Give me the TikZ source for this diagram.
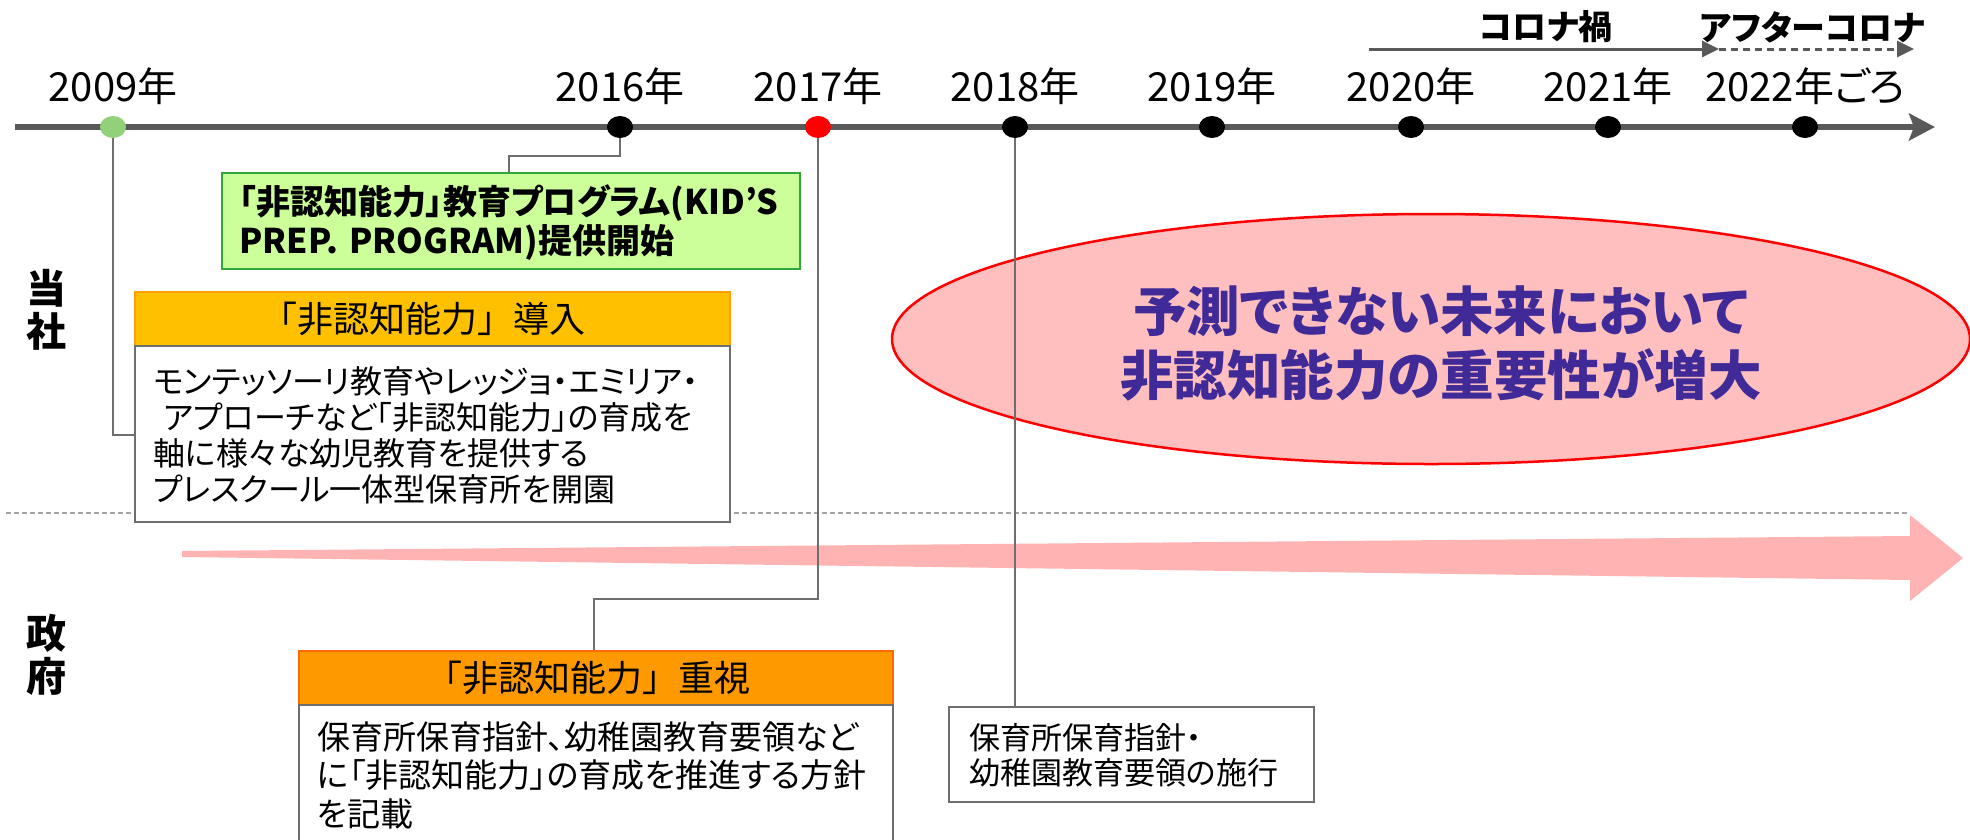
\documentclass[tikz,border=0pt]{standalone}
\usepackage{fontspec}
\setmainfont{Noto Sans CJK JP}[RawFeature=+palt]
\newfontfamily\plainjp{Noto Sans CJK JP}
\usetikzlibrary{arrows.meta,shapes.geometric}
\definecolor{axisgray}{HTML}{595959}
\definecolor{linkgray}{HTML}{6E6E6E}
\definecolor{sepgray}{HTML}{A6A6A6}
\definecolor{dotgreen}{HTML}{92D07A}
\definecolor{boxgreen}{HTML}{CCFF99}
\definecolor{boxgreenline}{HTML}{2EA83A}
\definecolor{gold}{HTML}{FFC000}
\definecolor{goldline}{HTML}{FFA000}
\definecolor{orangefill}{HTML}{FF9900}
\definecolor{orangeline}{HTML}{FF6A00}
\definecolor{pinkarrow}{HTML}{FFB3B3}
\definecolor{pinkfill}{HTML}{FFBFBF}
\definecolor{purpletext}{HTML}{3F2A98}
\tikzset{
  yeardot/.style={ellipse, minimum width=26pt, minimum height=22pt, inner sep=0pt, fill=black},
  yearlabel/.style={font=\fontsize{40}{43}\selectfont, inner sep=0pt},
  link/.style={draw=linkgray, line width=1.8pt},
  plainbox/.style={draw=linkgray, line width=1.5pt, fill=white, anchor=north west, inner sep=0pt},
  boxtext/.style={anchor=base west, inner sep=0pt, align=left},
  headtext/.style={font=\plainjp\fontsize{36}{38}\selectfont, inner sep=0pt},
  sidelabel/.style={font=\bfseries\fontsize{40}{43}\selectfont, align=center, inner sep=0pt},
  phaselabel/.style={font=\bfseries\fontsize{34}{36}\selectfont, inner sep=0pt},
}
\begin{document}
\begin{tikzpicture}[x=1pt,y=-1pt]
\useasboundingbox (0,0) rectangle (1970,839);

% separator
\draw[sepgray, line width=1.5pt, dash pattern=on 5pt off 3pt] (6,513) -- (1910,513);

% big pink arrow
\fill[pinkarrow] (182,551) -- (1910,536) -- (1910,515) -- (1963,558) -- (1910,601) -- (1910,580) -- (182,557) -- cycle;

% ellipse
\node[ellipse, draw=red, line width=2.5pt, fill=pinkfill, minimum width=1078pt, minimum height=250pt, inner sep=0pt] (ell) at (1431,339) {};
\node[font=\bfseries\fontsize{53.5}{64}\selectfont, text=purpletext, align=center, inner sep=0pt] (elltxt) at (1441,343) {予測できない未来において\\非認知能力の重要性が増大};

% timeline
\coordinate (tlstart) at (15,127);
\coordinate (tlend) at (1935,127);
\draw[axisgray, line width=5.5pt, -{Stealth[length=26pt, width=27pt, inset=5pt]}] (tlstart) -- (tlend);

% top phase arrows
\coordinate (c1) at (1369,49);
\coordinate (c2) at (1719,49);
\coordinate (c3) at (1914,49);
\draw[axisgray, line width=3pt, -{Triangle[length=17pt, width=16pt]}] (c1) -- (c2);
\draw[axisgray, line width=3pt, dash pattern=on 7pt off 5pt, -{Triangle[length=17pt, width=16pt]}] (c2) -- (c3);
\node[phaselabel] (corona) at (1546,27) {コロナ禍};
\node[phaselabel] (after) at (1812,27) {アフターコロナ};

% year labels
\node[yearlabel] (y2009) at (113,86) {2009年};
\node[yearlabel] (y2016) at (620,86) {2016年};
\node[yearlabel] (y2017) at (818,86) {2017年};
\node[yearlabel] (y2018) at (1015,86) {2018年};
\node[yearlabel] (y2019) at (1212,86) {2019年};
\node[yearlabel] (y2020) at (1411,86) {2020年};
\node[yearlabel] (y2021) at (1608,86) {2021年};
\node[yearlabel] (y2022) at (1805,86) {2022年ごろ};

% side labels
\node[sidelabel] (tousha) at (47,310) {当\\社};
\node[sidelabel] (seifu) at (47,655) {政\\府};

% green box
\node[draw=boxgreenline, line width=1.8pt, fill=boxgreen, minimum width=578pt, minimum height=96pt, anchor=north west, inner sep=0pt] (green) at (221,172) {};
\node[boxtext, text width=570pt, font=\bfseries\fontsize{34}{39}\selectfont] (greentxt) at (239,214) {「非認知能力」教育プログラム(KID’S\\PREP. PROGRAM)提供開始};

% box 1
\node[draw=goldline, line width=1.5pt, fill=gold, minimum width=595pt, minimum height=54pt, anchor=north west, inner sep=0pt] (h1) at (134,291) {};
\node[headtext, xshift=-9pt] (h1txt) at (h1.center) {「非認知能力」導入};
\node[plainbox, minimum width=595pt, minimum height=176pt] (b1) at (134,345) {};
\node[boxtext, text width=590pt, font=\fontsize{32}{36.3}\selectfont] (b1txt) at (153,393) {モンテッソーリ教育やレッジョ・エミリア・\\\ アプローチなど「非認知能力」の育成を\\軸に様々な幼児教育を提供する\\プレスクール一体型保育所を開園};

% box 2
\node[draw=orangeline, line width=1.5pt, fill=orangefill, minimum width=594pt, minimum height=54pt, anchor=north west, inner sep=0pt] (h2) at (298,650) {};
\node[headtext, xshift=-7pt] (h2txt) at (h2.center) {「非認知能力」重視};
\node[plainbox, minimum width=594pt, minimum height=150pt] (b2) at (298,704) {};
\node[boxtext, text width=590pt, font=\fontsize{33}{38.5}\selectfont] (b2txt) at (317,749) {保育所保育指針、幼稚園教育要領など\\に「非認知能力」の育成を推進する方針\\を記載};

% box 3
\node[plainbox, minimum width=365pt, minimum height=95pt] (b3) at (948,706) {};
\node[boxtext, text width=360pt, font=\fontsize{31}{35}\selectfont] (b3txt) at (969,749) {保育所保育指針・\\幼稚園教育要領の施行};

% connectors
\coordinate (k09) at (113,435);
\coordinate (k16a) at (620,156);
\coordinate (k16b) at (509,156);
\coordinate (k17a) at (818,599);
\coordinate (k17b) at (594,599);
\draw[link] (113,127) -- (k09) -- (k09 -| b1.west);
\draw[link] (620,127) -- (k16a) -- (k16b) -- (k16b |- green.north);
\draw[link] (818,127) -- (k17a) -- (k17b) -- (k17b |- h2.north);
\draw[link] (1015,127) -- (1015,706);

% dots
\node[yeardot, fill=dotgreen] (d2009) at (113,127) {};
\node[yeardot] (d2016) at (620,127) {};
\node[yeardot, fill=red] (d2017) at (818,127) {};
\node[yeardot] (d2018) at (1015,127) {};
\node[yeardot] (d2019) at (1212,127) {};
\node[yeardot] (d2020) at (1411,127) {};
\node[yeardot] (d2021) at (1608,127) {};
\node[yeardot] (d2022) at (1805,127) {};
\end{tikzpicture}
\end{document}
